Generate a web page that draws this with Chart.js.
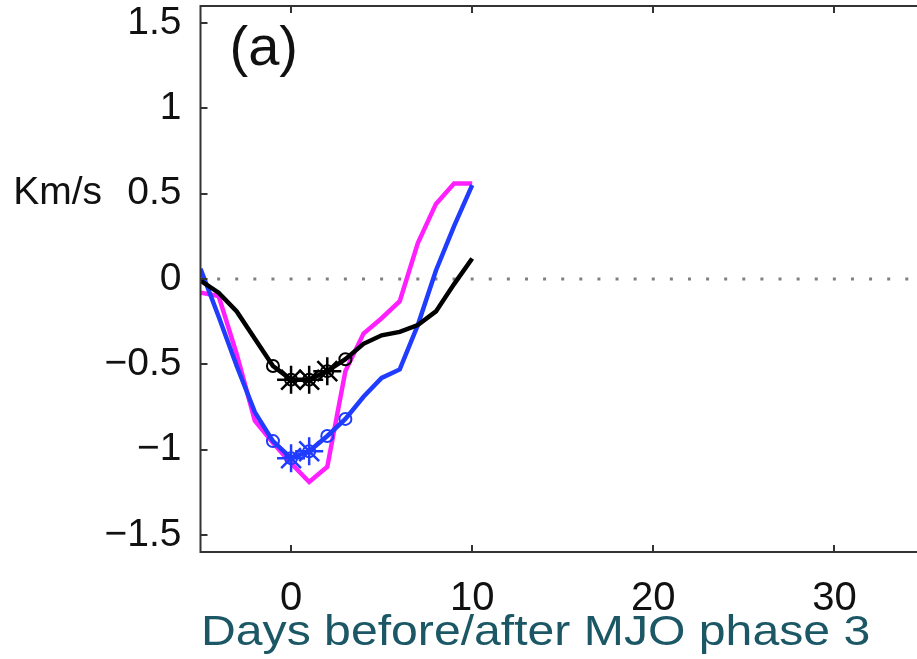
<!DOCTYPE html>
<html>
<head>
<meta charset="utf-8">
<script src="https://cdn.jsdelivr.net/npm/chart.js@4"></script>
<style>
    html, body { margin: 0; padding: 0; background: #fff; overflow: hidden; }
    #wrap { width: 926px; height: 659px; }
</style>
</head>
<body>
<div id="wrap"><canvas id="lagChart" width="926" height="659"></canvas></div>
<script>
// Lag axis (days relative to MJO phase 3)
const days = [-5, -4, -3, -2, -1, 0, 1, 2, 3, 4, 5, 6, 7, 8, 9, 10];

// Composite anomalies, Km/s
const blackSeries   = [-0.01, -0.08, -0.19, -0.35, -0.51, -0.59, -0.59, -0.54, -0.47, -0.38, -0.33, -0.31, -0.27, -0.19, -0.03, 0.12];
const blueSeries    = [0.06, -0.22, -0.51, -0.78, -0.95, -1.05, -1.01, -0.92, -0.82, -0.69, -0.58, -0.53, -0.27, 0.05, 0.31, 0.55];
const magentaSeries = [-0.08, -0.10, -0.44, -0.83, -0.96, -1.08, -1.19, -1.10, -0.54, -0.32, -0.23, -0.13, 0.21, 0.44, 0.56, 0.56];

// Days flagged with circles / asterisks
const circleDays    = [-1, 0, 1, 2, 3];
const blackStarDays = [0, 1, 2];
const blueStarDays  = [0, 1];

// Axes
const xRange = [-5, 35];
const yRange = [-1.6, 1.6];
const xTicks = [0, 10, 20, 30];
const yTicks = [-1.5, -1, -0.5, 0, 0.5, 1, 1.5];

const FONT = 'Liberation Sans, Arial, Helvetica, sans-serif';
const BLACK = '#000000';
const BLUE = '#1f3cff';
const MAGENTA = '#ff1fff';

function toPoints(series) {
    return days.map((d, i) => ({ x: d, y: series[i] }));
}

function pick(series, list) {
    return list.map(d => ({ x: d, y: series[days.indexOf(d)] }));
}

function fmtY(v) {
    return v < 0 ? '\u2212' + Math.abs(v) : String(v);
}

// keep tick labels from pushing the plot area around
function noPadding(s) {
    s.paddingTop = 0;
    s.paddingBottom = 0;
    s.paddingLeft = 0;
    s.paddingRight = 0;
}

// Box frame with inward ticks on all four sides, plus the panel text
const framePlugin = {
    id: 'frame',
    afterDatasetsDraw(chart) {
        const { ctx, chartArea: a, scales: { x, y } } = chart;
        const len = 7;
        ctx.save();
        ctx.strokeStyle = '#333';
        ctx.lineWidth = 2;
        ctx.strokeRect(a.left, a.top, a.right - a.left, a.bottom - a.top);
        ctx.beginPath();
        xTicks.forEach(v => {
            const px = Math.round(x.getPixelForValue(v));
            ctx.moveTo(px, a.bottom); ctx.lineTo(px, a.bottom - len);
            ctx.moveTo(px, a.top); ctx.lineTo(px, a.top + len);
        });
        yTicks.forEach(v => {
            const py = Math.round(y.getPixelForValue(v));
            ctx.moveTo(a.left, py); ctx.lineTo(a.left + len, py);
            ctx.moveTo(a.right, py); ctx.lineTo(a.right - len, py);
        });
        ctx.stroke();
        ctx.restore();
    },
    afterDraw(chart) {
        const { ctx, chartArea: a, scales: { y } } = chart;
        ctx.save();
        ctx.fillStyle = '#111';
        ctx.font = '56px ' + FONT;
        ctx.textAlign = 'left';
        ctx.textBaseline = 'alphabetic';
        ctx.fillText('(a)', a.left + 29, 65);

        ctx.font = '39px ' + FONT;
        ctx.textAlign = 'right';
        ctx.textBaseline = 'middle';
        ctx.fillText('Km/s', 102, y.getPixelForValue(0.5));

        // x-axis caption, slightly stretched
        ctx.fillStyle = '#1b5764';
        ctx.font = '43px ' + FONT;
        ctx.textAlign = 'left';
        ctx.textBaseline = 'alphabetic';
        ctx.translate(201, 645);
        ctx.scale(1.12, 1);
        ctx.fillText('Days before/after MJO phase 3', 0, 0);
        ctx.restore();
    }
};

const lineStyle = { showLine: true, tension: 0, pointRadius: 0, borderWidth: 4.5, fill: false };

new Chart(document.getElementById('lagChart'), {
    type: 'line',
    data: {
        datasets: [
            {
                ...lineStyle, data: [{ x: xRange[0], y: 0 }, { x: xRange[1], y: 0 }],
                borderColor: '#808080', borderWidth: 3, borderDash: [3, 15.11], borderDashOffset: 1.5,
                borderCapStyle: 'butt', order: 10
            },
            { ...lineStyle, data: toPoints(magentaSeries), borderColor: MAGENTA, order: 5 },
            { ...lineStyle, data: toPoints(blueSeries), borderColor: BLUE, order: 4 },
            {
                data: pick(blueSeries, circleDays), showLine: false, pointStyle: 'circle',
                pointRadius: 6, borderColor: BLUE, backgroundColor: 'rgba(0,0,0,0)', pointBorderWidth: 2, order: 3
            },
            {
                data: pick(blueSeries, blueStarDays), showLine: false, pointStyle: 'star',
                pointRadius: 14, borderColor: BLUE, pointBorderWidth: 2.5, order: 3
            },
            { ...lineStyle, data: toPoints(blackSeries), borderColor: BLACK, order: 2 },
            {
                data: pick(blackSeries, circleDays), showLine: false, pointStyle: 'circle',
                pointRadius: 6, borderColor: BLACK, backgroundColor: 'rgba(0,0,0,0)', pointBorderWidth: 2, order: 1
            },
            {
                data: pick(blackSeries, blackStarDays), showLine: false, pointStyle: 'star',
                pointRadius: 14, borderColor: BLACK, pointBorderWidth: 2.5, order: 1
            }
        ]
    },
    options: {
        responsive: false,
        animation: false,
        layout: { autoPadding: false, padding: { left: 0, top: 6, right: 1, bottom: 0 } },
        plugins: {
            legend: { display: false },
            tooltip: { enabled: false }
        },
        scales: {
            x: {
                type: 'linear',
                min: xRange[0],
                max: xRange[1],
                grid: { display: false },
                border: { display: false },
                afterBuildTicks: s => { s.ticks = xTicks.map(v => ({ value: v })); },
                afterFit: s => { s.height = 107; noPadding(s); },
                ticks: {
                    padding: 15,
                    color: '#111',
                    maxRotation: 0,
                    autoSkip: false,
                    font: { family: FONT, size: 40 }
                }
            },
            y: {
                min: yRange[0],
                max: yRange[1],
                grid: { display: false },
                border: { display: false },
                afterBuildTicks: s => { s.ticks = yTicks.map(v => ({ value: v })); },
                afterFit: s => { s.width = 200.5; noPadding(s); },
                ticks: {
                    padding: 11,
                    color: '#111',
                    autoSkip: false,
                    font: { family: FONT, size: 39 },
                    callback: v => fmtY(v)
                }
            }
        }
    },
    plugins: [framePlugin]
});
</script>
</body>
</html>
